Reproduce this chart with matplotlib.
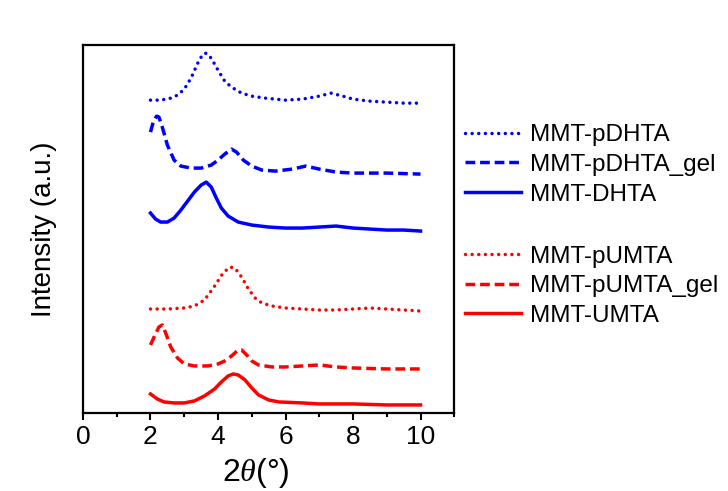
import numpy as np
import matplotlib
matplotlib.use('Agg')
import matplotlib.pyplot as plt
from matplotlib.ticker import MultipleLocator

plt.rcParams['font.family'] = ['Liberation Sans', 'DejaVu Sans']
plt.rcParams['mathtext.fontset'] = 'custom'
plt.rcParams['mathtext.it'] = 'Liberation Serif:italic'

# ---- data (offset stacked intensities) ----
x_pdhta = [2.0, 2.3, 2.6, 2.8, 3.0, 3.2, 3.4, 3.55, 3.65, 3.8, 4.0, 4.2, 4.4, 4.7, 5.0,
           5.4, 6.0, 6.5, 7.0, 7.35, 7.7, 8.0, 8.5, 9.0, 9.5, 10.0]
y_pdhta = [313, 313, 315, 318, 324, 335, 350, 359, 360, 355, 343, 332, 326, 320, 317,
           315, 313, 314, 317, 320, 317, 314, 312, 311, 310, 310]

x_pdhta_gel = [2.0, 2.08, 2.18, 2.25, 2.35, 2.5, 2.7, 2.9, 3.2, 3.5, 3.8, 4.0, 4.2, 4.4, 4.55,
               4.75, 5.0, 5.3, 5.7, 6.2, 6.6, 7.0, 7.5, 8.0, 9.0, 10.0]
y_pdhta_gel = [281, 291, 297, 296, 286, 268, 253, 247, 245, 245, 248, 253, 259, 264, 261,
               253, 247, 243, 242, 244, 247, 244, 241, 240, 240, 239]

x_dhta = [2.0, 2.15, 2.3, 2.5, 2.7, 2.9, 3.1, 3.3, 3.5, 3.65, 3.8, 3.95, 4.1, 4.3, 4.6,
          5.0, 5.5, 6.0, 6.5, 7.0, 7.5, 8.0, 8.5, 9.0, 9.5, 10.0]
y_dhta = [200, 194, 191, 191, 195, 203, 212, 221, 228, 231, 226, 215, 205, 197, 191,
          188, 186, 185, 185, 186, 187, 185, 184, 183, 183, 182]

x_pumta = [2.0, 2.5, 3.0, 3.3, 3.6, 3.9, 4.15, 4.35, 4.5, 4.7, 4.9, 5.1, 5.3, 5.6, 6.0,
           6.5, 7.0, 7.5, 8.0, 8.5, 9.0, 9.5, 10.0]
y_pumta = [104, 104, 105, 107, 113, 127, 140, 146, 145, 136, 124, 115, 110, 107, 105,
           104, 103, 103, 104, 105, 104, 103, 102]

x_pumta_gel = [2.0, 2.12, 2.25, 2.35, 2.45, 2.6, 2.8, 3.0, 3.3, 3.7, 4.0, 4.2, 4.4, 4.6, 4.7,
               4.85, 5.0, 5.2, 5.6, 6.0, 6.5, 7.0, 7.5, 8.0, 9.0, 10.0]
y_pumta_gel = [68, 77, 86, 88, 80, 66, 55, 49, 47, 47, 49, 52, 57, 63, 63,
               58, 52, 48, 46, 46, 47, 48, 46, 45, 44, 44]

x_umta = [2.0, 2.2, 2.4, 2.7, 3.0, 3.3, 3.6, 3.9, 4.1, 4.3, 4.45, 4.6, 4.8, 5.0, 5.2,
          5.5, 5.8, 6.5, 7.0, 8.0, 9.0, 10.0]
y_umta = [19, 14, 11, 10, 10, 12, 17, 24, 31, 37, 39, 38, 33, 25, 18,
          13, 11, 10, 9, 9, 8, 8]

dotted = (0, (0.01, 1.9))
dashed = (0, (2.8, 1.4))

fig = plt.figure(figsize=(7.28, 4.91), dpi=100)
ax = fig.add_axes([0.114, 0.159, 0.510, 0.749])

lw = 2.5
h1, = ax.plot(x_pdhta, y_pdhta, color='#0000ff', lw=lw, ls=dotted, dash_capstyle='round', label='MMT-pDHTA')
h2, = ax.plot(x_pdhta_gel, y_pdhta_gel, color='#0000ff', lw=lw, ls=dashed, label='MMT-pDHTA_gel')
h3, = ax.plot(x_dhta, y_dhta, color='#0000ff', lw=lw, label='MMT-DHTA')
h4, = ax.plot(x_pumta, y_pumta, color='#ff0000', lw=lw, ls=dotted, dash_capstyle='round', label='MMT-pUMTA')
h5, = ax.plot(x_pumta_gel, y_pumta_gel, color='#ff0000', lw=lw, ls=dashed, label='MMT-pUMTA_gel')
h6, = ax.plot(x_umta, y_umta, color='#ff0000', lw=lw, label='MMT-UMTA')

ax.set_xlim(0, 11)
ax.set_ylim(0, 368)
ax.xaxis.set_minor_locator(MultipleLocator(1))
ax.set_xticks([0, 2, 4, 6, 8, 10])
ax.set_yticks([])
ax.tick_params(axis='x', which='major', direction='out', length=5, width=1.5, labelsize=19, pad=4)
ax.tick_params(axis='x', which='minor', direction='out', length=3, width=1.5)
for s in ax.spines.values():
    s.set_linewidth(1.6)

ax.set_xlabel(r'2$\it{\theta}$(°)', fontsize=23, labelpad=2)
ax.xaxis.set_label_coords(0.466, -0.118)
ax.set_ylabel('Intensity (a.u.)', fontsize=20, labelpad=19)

leg_kw = dict(loc='center left', frameon=False, fontsize=17.5,
              handlelength=2.3, handletextpad=0.37, labelspacing=0.31)
fig.legend(handles=[h1, h2, h3], bbox_to_anchor=(0.609, 0.664), **leg_kw)
fig.legend(handles=[h4, h5, h6], bbox_to_anchor=(0.609, 0.417), **leg_kw)

plt.savefig('out.png', dpi=100)
plt.close()
